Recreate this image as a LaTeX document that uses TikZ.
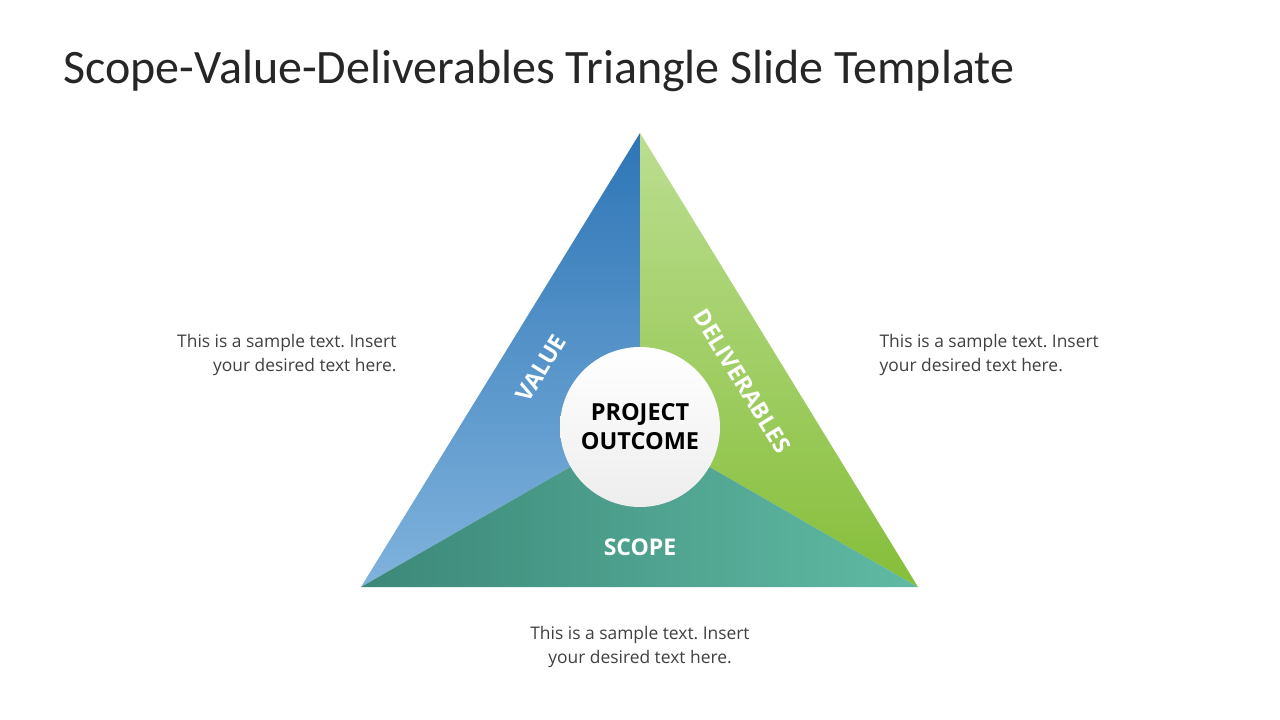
\documentclass[tikz,border=0pt]{standalone}
\usepackage{fontspec}
\setmainfont{Open Sans}
\newfontfamily\titlefont{Carlito}
\definecolor{valuetop}{HTML}{2E75B6}
\definecolor{valuebot}{HTML}{80B3DD}
\definecolor{delivtop}{HTML}{BCDE91}
\definecolor{delivbot}{HTML}{86BE3A}
\definecolor{scopeleft}{HTML}{3C8878}
\definecolor{scoperight}{HTML}{60BAA4}
\definecolor{bodytext}{HTML}{404040}
\frenchspacing
\begin{document}
\begin{tikzpicture}[x=1pt,y=-1pt,
    label/.style={text=white, inner sep=0pt, font=\fontsize{23}{27}\selectfont\bfseries},
    sample/.style={text=bodytext, font=\fontsize{17.4}{23.5}\selectfont}]
    \useasboundingbox[fill=white] (0,0) rectangle (1280,720);
    \coordinate (top) at (640,133);
    \coordinate (bl) at (361,587);
    \coordinate (br) at (918,587);
    \coordinate (c) at (640,427);
    % three parts of the triangle
    \shade[top color=valuetop, bottom color=valuebot] (top) -- (c) -- (bl) -- cycle;
    \shade[top color=delivtop, bottom color=delivbot] (top) -- (c) -- (br) -- cycle;
    \shade[left color=scopeleft, right color=scoperight] (bl) -- (c) -- (br) -- cycle;
    \node[circle, minimum size=160pt, top color=white, bottom color=black!7,
          align=center, font=\fontsize{23.5}{29}\selectfont\bfseries] (outcome) at (c) {PROJECT\\OUTCOME};
    \node[label, rotate=58.4] (value) at (541,368) {VALUE};
    \node[label, rotate=-58.4] (deliv) at (742,381) {DELIVERABLES};
    \node[label] (scope) at (640,547) {SCOPE};
    % texts
    \node[anchor=north west, text=black!85, font=\titlefont\fontsize{48}{56}\selectfont] (title) at (60,47) {Scope-Value-Deliverables Triangle Slide Template};
    \node[sample, align=right, anchor=east] (lefttext) at (400,355) {This is a sample text. Insert\\your desired text here.};
    \node[sample, align=left, anchor=west] (righttext) at (876,355) {This is a sample text. Insert\\your desired text here.};
    \node[sample, align=center] (bottomtext) at (640,647) {This is a sample text. Insert\\your desired text here.};
\end{tikzpicture}
\end{document}
